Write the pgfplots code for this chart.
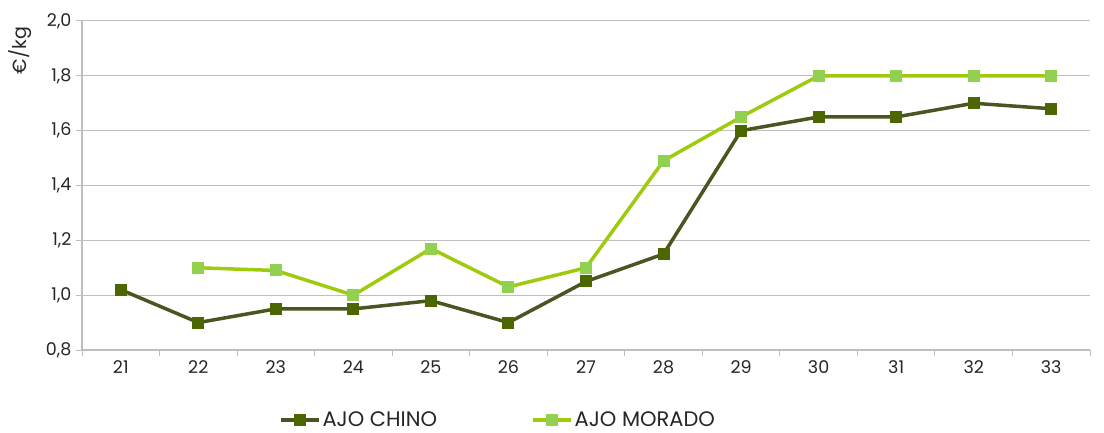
\documentclass[border=0pt]{standalone}
\usepackage{fontspec}
\setmainfont{Poppins}
\usepackage{pgfplots}
\pgfplotsset{compat=1.18}

\definecolor{chinoline}{HTML}{4A5522}
\definecolor{chinomark}{HTML}{4C6600}
\definecolor{moradoline}{HTML}{9FCB0F}
\definecolor{moradomark}{HTML}{92D050}
\definecolor{gridgray}{HTML}{BFBFBF}

\begin{document}
\begin{tikzpicture}
\begin{axis}[
    scale only axis,
    width=1008pt, height=329pt,
    xmin=-0.5, xmax=12.5,
    ymin=0.8, ymax=2.0,
    ytick={0.8,1.0,...,2.0},
    xtick={0,...,12},
    xticklabels={21,22,23,24,25,26,27,28,29,30,31,32,33},
    minor xtick={-0.5,0.5,...,12.5},
    major x tick style={draw=none},
    minor tick length=6pt,
    major tick length=6pt,
    tick align=outside,
    tick style={gridgray, line width=1pt},
    axis x line*=bottom,
    axis y line*=left,
    axis line style={gridgray, line width=1.2pt, -},
    ymajorgrids,
    grid style={gridgray, line width=1pt},
    tick label style={font=\fontsize{17.5}{20}\selectfont, text=black!85},
    /pgf/number format/assume math mode=true,
    /pgf/number format/.cd, use comma, fixed, fixed zerofill, precision=1,
    /pgfplots/.cd,
    yticklabel style={xshift=-1pt},
    xticklabel style={yshift=-1pt},
    ylabel={€/kg},
    ylabel style={at={(rel axis cs:-0.0734,0.982)}, anchor=north east, rotate=0,
        font=\fontsize{19}{22}\selectfont, text=black!85, inner sep=0pt},
    legend style={at={(rel axis cs:0.4127,-0.213)}, anchor=center, draw=none,
        legend columns=2, font=\fontsize{21}{24}\selectfont, text=black!85,
        /tikz/every even column/.append style={column sep=92pt}},
    legend image code/.code={\draw[mark repeat=2,mark phase=2,#1]
        plot coordinates {(0pt,0pt) (19pt,0pt) (38pt,0pt)};},
    clip=false,
]
\addplot[chinoline, line width=3.5pt, mark=square*, mark size=5.5pt,
    mark options={solid, fill=chinomark, draw=chinomark, line width=0pt}]
    coordinates {(0,1.02) (1,0.90) (2,0.95) (3,0.95) (4,0.98) (5,0.90) (6,1.05)
                 (7,1.15) (8,1.60) (9,1.65) (10,1.65) (11,1.70) (12,1.68)};
\addlegendentry{AJO CHINO}
\addplot[moradoline, line width=3.5pt, mark=square*, mark size=5.5pt,
    mark options={solid, fill=moradomark, draw=moradomark, line width=0pt}]
    coordinates {(1,1.10) (2,1.09) (3,1.00) (4,1.17) (5,1.03) (6,1.10)
                 (7,1.49) (8,1.65) (9,1.80) (10,1.80) (11,1.80) (12,1.80)};
\addlegendentry{AJO MORADO}
\end{axis}
\path ([shift={(-82pt,-82pt)}]current axis.south west) rectangle ([shift={(14pt,21pt)}]current axis.north east);
\end{tikzpicture}
\end{document}
